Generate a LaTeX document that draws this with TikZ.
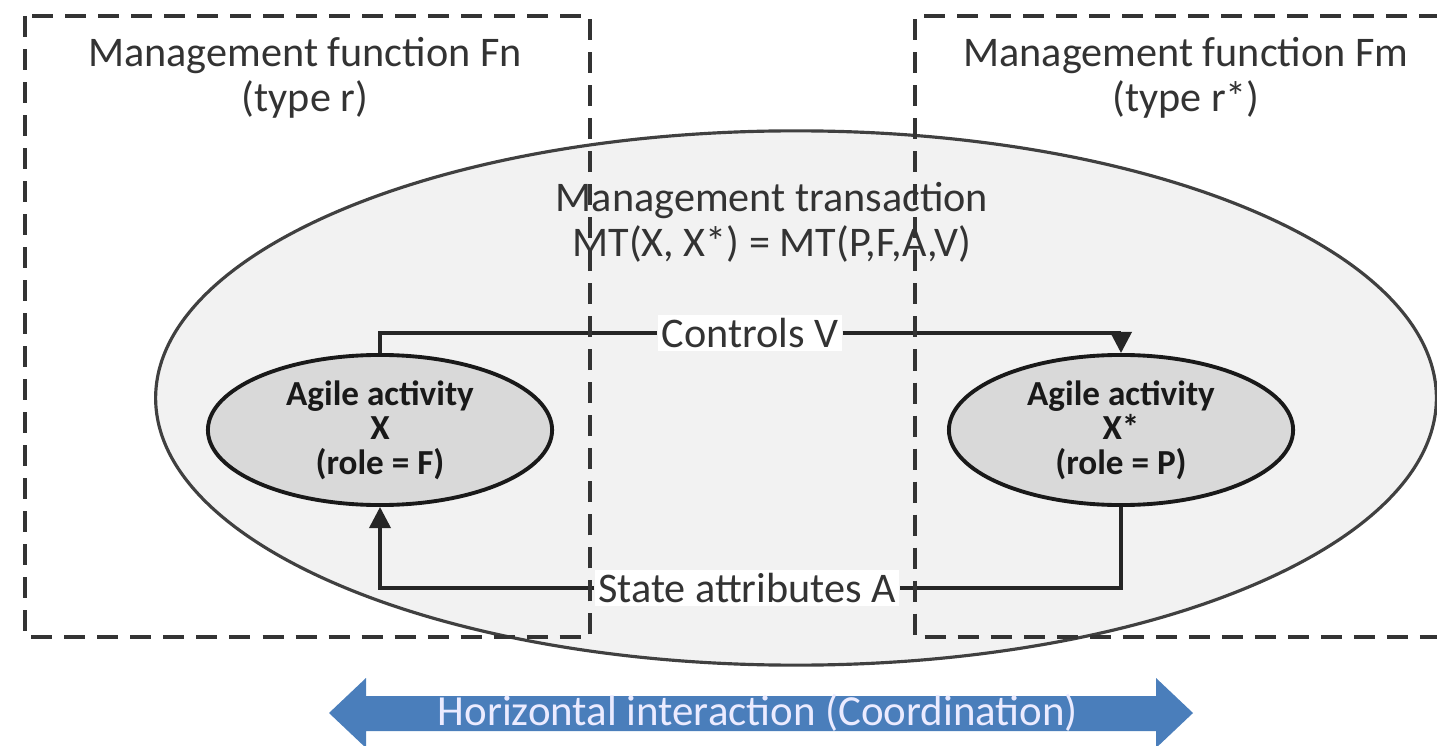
\documentclass[tikz,border=0pt]{standalone}
\usepackage{fontspec}
\setmainfont{Carlito}
\usetikzlibrary{shapes.geometric,arrows.meta}
\definecolor{txt}{HTML}{333333}
\definecolor{bigfill}{HTML}{F2F2F2}
\definecolor{smallfill}{HTML}{D9D9D9}
\definecolor{arrblue}{HTML}{4A7EBB}
\tikzset{
  bigtext/.style={text=txt,font=\fontsize{12}{12.8}\selectfont,align=center,inner sep=0pt},
  activity/.style={ellipse,draw=black!90,line width=1.1pt,fill=smallfill,
    minimum width=3.44cm,minimum height=1.5cm,inner sep=0pt,align=center,
    font=\fontsize{10}{9.8}\selectfont\bfseries,text=black!90},
  lab/.style={fill=white,text=txt,font=\fontsize{12}{13}\selectfont,inner sep=1pt},
  conn/.style={draw=black!85,line width=1pt},
  arr/.style={conn,-{Triangle[length=6pt,width=6pt]}},
  fnbox/.style={draw=black!80,line width=1.1pt,dash pattern=on 0.21cm off 0.12cm}
}
\begin{document}
\begin{tikzpicture}[x=0.01cm,y=-0.01cm]
\useasboundingbox (0,0) rectangle (1437,746);
% big ellipse
\node[ellipse,draw=black!75,line width=0.9pt,fill=bigfill,minimum width=12.8cm,minimum height=5.34cm,inner sep=0pt] (mt) at (796,398) {};
\node[bigtext] (mttext) at (772,222) {Management transaction\\MT(X, X*) = MT(P,F,A,V)};
% activities
\node[activity] (X) at (380,430) {Agile activity\\X\\(role = F)};
\node[activity] (Xs) at (1121,430) {Agile activity\\X*\\(role = P)};
% labels
\node[lab] (cv) at (750,333) {Controls V};
\node[lab] (sa) at (747,588) {State attributes A};
\draw[conn] (X.north) |- (cv.west);
\draw[arr] (cv.east) -| (Xs.north);
\draw[conn] (Xs.south) |- (sa.east);
\draw[arr] (sa.west) -| (X.south);
% function titles
\node[bigtext] (fn) at (305,78) {Management function Fn\\(type r)};
\node[bigtext] (fm) at (1186,78) {Management function Fm\\(type r*)};
% dashed boxes
\draw[fnbox] (25,16) rectangle (590,637);
\draw[fnbox] (1440,16) -- (915,16) -- (915,637) -- (1440,637);
% bottom arrow
\fill[arrblue] (329,713) -- (366,678) -- (366,696) -- (1156,696) -- (1156,678) -- (1193,713)
  -- (1156,748) -- (1156,731) -- (366,731) -- (366,748) -- cycle;
\node[text=white!92!blue,font=\fontsize{12.2}{13}\selectfont,inner sep=0pt] (hi) at (758,713) {Horizontal interaction (Coordination)};
\end{tikzpicture}
\end{document}
